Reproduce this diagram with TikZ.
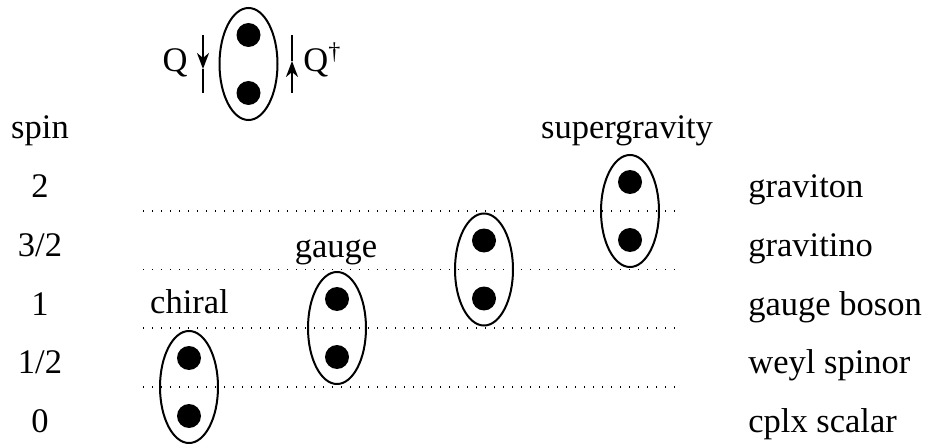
\documentclass[tikz,border=0pt]{standalone}
\usepackage{fontspec}
\setmainfont{Liberation Serif}
\usetikzlibrary{arrows.meta,shapes.geometric}
\tikzset{
  multiplet/.style={draw, ellipse, line width=1pt, minimum width=29pt, minimum height=56pt, inner sep=0pt},
  state/.style={circle, fill=black, minimum size=12pt, inner sep=0pt},
  lbl/.style={font=\fontsize{17.25}{20}\selectfont, inner sep=0pt},
  level/.style={line width=0.7pt, dash pattern=on 0.7pt off 3.8pt},
  susy/.style={line width=1pt},
  susytip/.style={-{Stealth[length=8pt, width=6pt, inset=2.5pt]}},
}

\begin{document}
\begin{tikzpicture}[x=0.5pt,y=-0.5pt]
 \useasboundingbox (0,0) rectangle (927,444);
 % spin column and particle names
 \node[lbl, anchor=base] (spin) at (40,139) {spin};
 \foreach \y/\s/\p [count=\i] in {198/2/graviton, 256.5/{3/2}/gravitino, 315/1/gauge boson, 373.5/{1/2}/weyl spinor, 432/0/cplx scalar}{
   \node[lbl, anchor=base] (spin\i) at (40,\y) {\s};
   \node[lbl, anchor=base west] (part\i) at (748,\y) {\p};
 }
 % levels
 \foreach \y [count=\i] in {211,269.5,328,387}
   \draw[level] (143,\y) coordinate (lev\i) -- (675,\y) coordinate (levend\i);
 % multiplets
 \foreach \x/\y/\nm in {189/387/chiral, 337/328/gauge, 484/269.5/gravitino, 630/211/sugra}{
   \node[multiplet] (\nm) at (\x,\y) {};
   \node[state] (\nm up) at (\x,{\y-29}) {};
   \node[state] (\nm down) at (\x,{\y+29}) {};
 }
 \node[lbl, anchor=base] (chirallbl) at (189.5,314) {chiral};
 \node[lbl, anchor=base] (gaugelbl) at (336,257) {gauge};
 \node[lbl, anchor=base] (sugralbl) at (627,139) {supergravity};
 % Q and Q dagger
 \node[multiplet] (top) at (248.5,64) {};
 \node[state] (top up) at (248.5,35) {};
 \node[state] (top down) at (248.5,93) {};
 \coordinate (qa) at (203,35);
 \coordinate (qb) at (203,69);
 \coordinate (qc) at (203,93);
 \coordinate (qda) at (292,93);
 \coordinate (qdb) at (292,61);
 \coordinate (qdc) at (292,35);
 \draw[susy, susytip] (qa) -- (qb);
 \draw[susy] (qb) -- (qc);
 \draw[susy, susytip] (qda) -- (qdb);
 \draw[susy] (qdb) -- (qdc);
 \node[lbl, anchor=base east] (q) at (188,72) {Q};
 \node[lbl, anchor=base west] (qd) at (303,72) {Q\textsuperscript{\textdagger}};
\end{tikzpicture}
\end{document}
